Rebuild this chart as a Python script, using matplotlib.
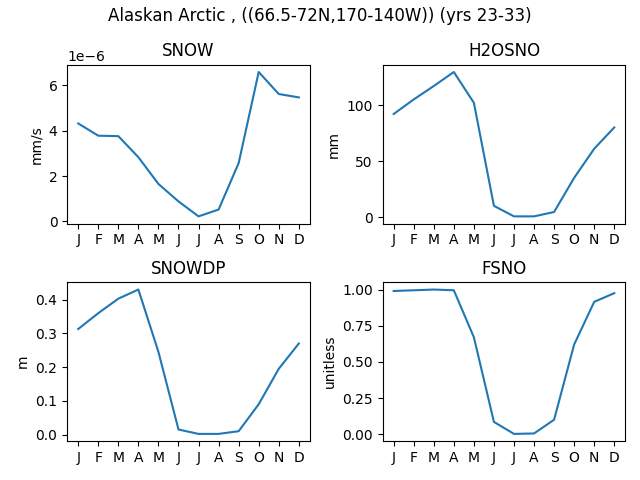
import matplotlib
matplotlib.use("Agg")
import matplotlib.pyplot as plt

months = ["J", "F", "M", "A", "M", "J", "J", "A", "S", "O", "N", "D"]

snow = [4.32e-6, 3.78e-6, 3.76e-6, 2.83e-6, 1.65e-6, 0.88e-6,
        0.22e-6, 0.52e-6, 2.57e-6, 6.59e-6, 5.62e-6, 5.47e-6]
h2osno = [92, 105, 117, 129.5, 102, 10, 0.6, 0.6, 4.5, 35, 61, 80]
snowdp = [0.313, 0.36, 0.403, 0.43, 0.245, 0.015, 0.002, 0.002, 0.01, 0.09, 0.195, 0.27]
fsno = [0.99, 0.995, 1.0, 0.995, 0.67, 0.085, 0.002, 0.005, 0.1, 0.62, 0.915, 0.975]

panels = [
    ("SNOW", snow, "mm/s"),
    ("H2OSNO", h2osno, "mm"),
    ("SNOWDP", snowdp, "m"),
    ("FSNO", fsno, "unitless"),
]

fig, axes = plt.subplots(2, 2, figsize=(6.4, 4.8))
x = range(len(months))
for ax, (name, vals, unit) in zip(axes.flat, panels):
    ax.plot(x, vals)
    ax.set_title(name)
    ax.set_ylabel(unit)
    ax.set_xticks(list(x))
    ax.set_xticklabels(months)

fig.suptitle("Alaskan Arctic , ((66.5-72N,170-140W)) (yrs 23-33)", y=0.985)
# layout matched by hand to the reference
fig.subplots_adjust(left=0.105, right=0.977, top=0.865, bottom=0.081,
                    wspace=0.30, hspace=0.37)
fig.savefig("out.png", dpi=100)
